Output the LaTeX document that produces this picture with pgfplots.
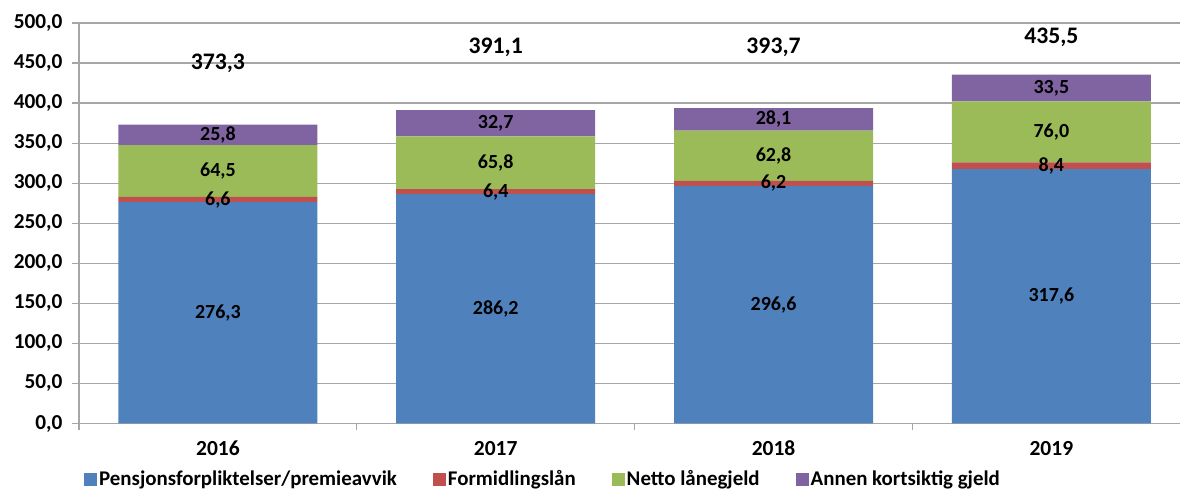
\documentclass[border=0pt]{standalone}
\usepackage{pgfplots}
\pgfplotsset{compat=1.18}
\usepackage{fontspec}
\setmainfont{Carlito}
\definecolor{cBlue}{HTML}{4F81BD}
\definecolor{cRed}{HTML}{C0504D}
\definecolor{cGreen}{HTML}{9BBB59}
\definecolor{cPurple}{HTML}{8064A2}
\definecolor{gridc}{HTML}{A6A6A6}
\pgfplotstableread{
x y label
0 138.15 276,3
1 143.1 286,2
2 148.3 296,6
3 158.8 317,6
0 279.6 6,6
1 289.4 6,4
2 299.7 6,2
3 321.8 8,4
0 315.15 64,5
1 325.5 65,8
2 334.2 62,8
3 364.0 76,0
0 360.3 25,8
1 374.75 32,7
2 379.65 28,1
3 418.75 33,5
}\seglabels
\pgfplotstableread{
x y label
0 450 373,3
1 470 391,1
2 470 393,7
3 482 435,5
}\totlabels
\begin{document}
\begin{tikzpicture}[font=\fontsize{20}{24}\selectfont\bfseries]
\begin{axis}[
  scale only axis, width=1101pt, height=400.5pt,
  ybar stacked, bar width=199pt,
  xmin=-0.5, xmax=3.463, ymin=0, ymax=500,
  xtick={-0.5,0.5,1.5,2.5}, xticklabels={},
  extra x ticks={0,1,2,3}, extra x tick labels={2016,2017,2018,2019},
  extra x tick style={major tick length=0pt},
  ytick={0,50,...,500},
  axis x line*=bottom, axis y line*=left,
  axis line style={gridc, line width=1.2pt},
  ymajorgrids, grid style={gridc, line width=1.2pt},
  tick align=outside, major tick length=7pt,
  tick style={gridc, line width=1.2pt},
  yticklabel style={xshift=-6pt, font=\fontsize{21.3}{24}\selectfont\bfseries, /pgf/number format/.cd, fixed, fixed zerofill, precision=1, use comma, 1000 sep={}},
  /pgf/number format/assume math mode=true,
  xticklabel style={yshift=-14pt, font=\fontsize{21.5}{24}\selectfont\bfseries},
  legend columns=4,
  legend style={draw=none, fill=none, at={(0.0018,-0.1386)}, anchor=west,
    font=\fontsize{20.9}{24}\selectfont\bfseries,
    /tikz/every even column/.append style={column sep=34pt}},
  legend image code/.code={\fill[#1] (0pt,-6.5pt) rectangle (13pt,6.5pt);},
]
\addplot[fill=cBlue, draw=none] coordinates {(0,276.3) (1,286.2) (2,296.6) (3,317.6)};
\addplot[fill=cRed, draw=none] coordinates {(0,6.6) (1,6.4) (2,6.2) (3,8.4)};
\addplot[fill=cGreen, draw=none] coordinates {(0,64.5) (1,65.8) (2,62.8) (3,76.0)};
\addplot[fill=cPurple, draw=none] coordinates {(0,25.8) (1,32.7) (2,28.1) (3,33.5)};
\legend{Pensjonsforpliktelser/premieavvik, Formidlingslån, Netto lånegjeld, Annen kortsiktig gjeld}
\coordinate (BL) at (rel axis cs:0,0);
\coordinate (TR) at (rel axis cs:1,1);
\end{axis}
\begin{axis}[
  scale only axis, width=1101pt, height=400.5pt,
  xmin=-0.5, xmax=3.463, ymin=0, ymax=500, hide axis,
]
\addplot[draw=none, mark=none, nodes near coords, point meta=explicit symbolic,
  nodes near coords style={anchor=center, font=\fontsize{20}{24}\selectfont\bfseries}]
  table[meta=label] {\seglabels};
\addplot[draw=none, mark=none, nodes near coords, point meta=explicit symbolic,
  nodes near coords style={anchor=center, font=\fontsize{23.7}{28}\selectfont\bfseries}]
  table[meta=label] {\totlabels};
\end{axis}
\pgfresetboundingbox
\path ([shift={(-79pt,-67.5pt)}]BL) rectangle ([yshift=23pt]TR);
\end{tikzpicture}
\end{document}
